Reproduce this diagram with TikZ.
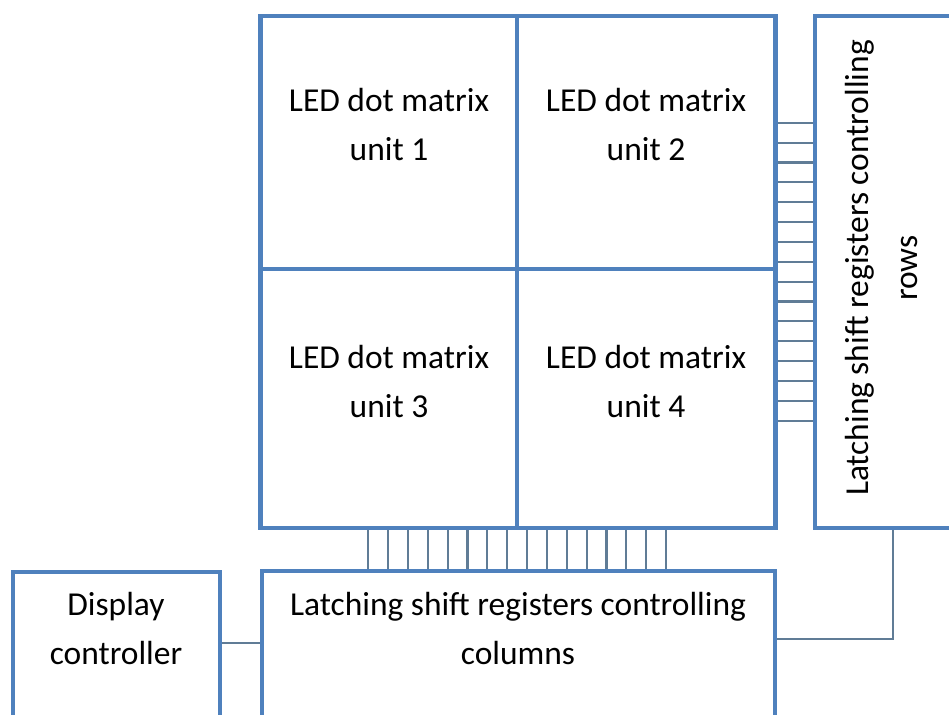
\documentclass[tikz,border=0pt]{standalone}
\usepackage{fontspec}
\setmainfont{Carlito}
\usetikzlibrary{positioning,calc}
\definecolor{Frame}{RGB}{79,129,189}
\definecolor{Wire}{RGB}{96,124,150}

\begin{document}
\begin{tikzpicture}[x=0.75pt,y=-0.75pt,
    blk/.style={draw=Frame,line width=3.6pt,inner sep=0pt},
    wire/.style={draw=Wire,line width=1.6pt},
    lbl/.style={align=center,font=\fontsize{25.1}{36.75}\selectfont}]
  \clip (0,0) rectangle (949,714);
  % matrix units
  \node[blk,minimum width=192.4pt,minimum height=189.75pt] (u1) at (388.75,142.5) {};
  \node[blk,minimum width=193.9pt,minimum height=189.75pt] (u2) at (646.25,142.5) {};
  \node[blk,minimum width=192.4pt,minimum height=194.25pt] (u3) at (388.75,398.5) {};
  \node[blk,minimum width=193.9pt,minimum height=194.25pt] (u4) at (646.25,398.5) {};
  \node[lbl] (t1) at (389,125) {LED dot matrix\\unit 1};
  \node[lbl] (t2) at (646,125) {LED dot matrix\\unit 2};
  \node[lbl] (t3) at (389,381) {LED dot matrix\\unit 3};
  \node[lbl] (t4) at (646,381) {LED dot matrix\\unit 4};
  % registers and controller
  \node[blk,minimum width=112.5pt,minimum height=384pt] (rowreg) at (890,272) {};
  \node[lbl,rotate=90] (trow) at (881,268) {Latching shift registers controlling\\rows};
  \node[blk,minimum width=384.75pt,minimum height=123pt] (colreg) at (518.5,653) {};
  \node[lbl] (tcol) at (518,628) {Latching shift registers controlling\\columns};
  \node[blk,minimum width=155.25pt,minimum height=122.25pt] (ctrl) at (116.5,653.5) {};
  \node[lbl] (tctrl) at (116,628) {Display\\controller};
  % buses
  \foreach \i in {0,...,15}{
    \coordinate (rw\i) at (0,{122.7+19.87*\i});
    \draw[wire] (u2.east |- rw\i) -- (rowreg.west |- rw\i);
    \coordinate (cw\i) at ({368.3+19.85*\i},0);
    \draw[wire] (u3.south -| cw\i) -- (colreg.north -| cw\i);
  }
  % links
  \coordinate (k) at (0,643);
  \draw[wire] (ctrl.east |- k) -- (colreg.west |- k);
  \coordinate (j) at (893,639);
  \draw[wire] (colreg.east |- j) -| (rowreg.south -| j);
\end{tikzpicture}
\end{document}
